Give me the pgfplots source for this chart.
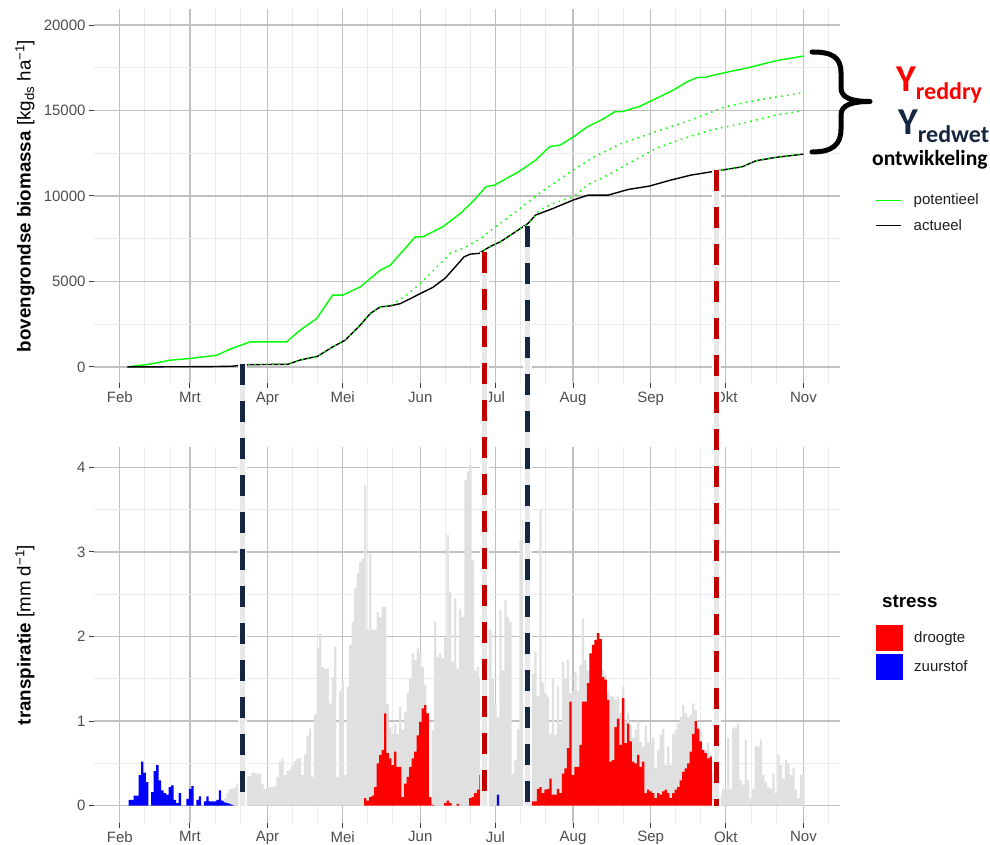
\documentclass[border=0pt]{standalone}
\usepackage{fontspec}
\setmainfont{Liberation Sans}
\newfontfamily\calib{Carlito}
\usepackage{pgfplots}
\pgfplotsset{compat=1.18}
\definecolor{gridmaj}{RGB}{192,192,192}
\definecolor{gridmin}{RGB}{235,235,235}
\definecolor{tickc}{RGB}{60,60,60}
\definecolor{ticktext}{RGB}{77,77,77}
\definecolor{legtext}{RGB}{30,30,30}
\definecolor{pgreen}{RGB}{0,255,0}
\definecolor{navy}{RGB}{22,38,64}
\definecolor{dred}{RGB}{192,0,0}
\definecolor{yred}{RGB}{255,0,0}
\definecolor{bargrey}{RGB}{224,224,224}
\definecolor{sred}{RGB}{255,0,0}
\definecolor{sblue}{RGB}{0,0,255}

\pgfplotsset{
  common/.style={
    scale only axis, width=746bp,
    xmin=21.7, xmax=319.6,
    xtick={32,60,91,121,152,182,213,244,274,305},
    xticklabels={Feb,Mrt,Apr,Mei,Jun,Jul,Aug,Sep,Okt,Nov},
    minor xtick={42,52,70,80,101,111,131,141,162,172,192,202,223,233,254,264,284,294,315},
    grid=both,
    major grid style={draw=gridmaj, line width=1.3bp},
    minor grid style={draw=gridmin, line width=0.7bp},
    axis line style={draw=none},
    tick align=outside, major tick length=5bp, minor tick length=0pt,
    tick style={draw=tickc, line width=1bp},
    xtick pos=left, ytick pos=left,
    ticklabel style={font=\fontsize{15bp}{18bp}\selectfont, text=ticktext},
    scaled y ticks=false,
    /pgf/number format/assume math mode=true,
    /pgf/number format/1000 sep={},
    label style={font=\fontsize{18.75bp}{22bp}\selectfont},
    legend cell align=left,
  }
}

\begin{document}
\begin{tikzpicture}[x=1bp,y=1bp]
\useasboundingbox (0,0) rectangle (990,845);

% ---------------- top panel: biomass ----------------
\begin{axis}[common,
  at={(94bp,461.7bp)}, anchor=south west, height=374.6bp,
  ymin=-960, ymax=20960,
  ytick={0,5000,10000,15000,20000},
  yticklabels={0,5000,10000,15000,20000},
  minor ytick={2500,7500,12500,17500},
  ylabel={\textbf{bovengrondse biomassa} [kg\textsubscript{ds} ha\textsuperscript{−1}]},
  ylabel style={at={(axis description cs:-0.0925,0.5)}, anchor=center},
  legend style={at={(axis description cs:1.047,0.4546)}, anchor=west,
    draw=none, fill=none, inner sep=0pt, row sep=13bp, column sep=12bp,
    font=\fontsize{15bp}{18bp}\selectfont, text=legtext, nodes={inner sep=0pt}},
  legend image code/.code={\draw[#1, line width=1.4bp, solid] (0bp,0bp) -- (25bp,0bp);},
]
\addplot[pgreen, line width=1.4bp] coordinates {
(35,0) (44,160) (52,390) (60,490) (70.6,680) (77,1090) (84,1460) (98.6,1460)
(104,2150) (110.6,2830) (117,4200) (121,4200) (128,4680) (136,5660) (140,5950)
(146.5,7030) (150,7610) (153,7610) (161,8200) (168,8980) (173.5,9760) (178.2,10540)
(181.7,10640) (186.5,11030) (191.3,11420) (198.1,12100) (203.6,12880) (207.8,12980)
(213.3,13470) (218.7,14050) (224.2,14440) (229.7,14930) (232.5,14930) (239.4,15230)
(246.2,15710) (253.1,16200) (258.6,16690) (262.7,16940) (265.4,16940) (273.7,17220)
(281.9,17470) (287.4,17670) (294.3,17920) (305,18190)};
\addlegendentry{potentieel}
\addplot[black, line width=1.4bp] coordinates {
(35,0) (50,5) (60,10) (70,20) (77,40) (80,90) (84,130) (90,140) (99,150)
(104,400) (111,620) (117,1170) (122,1560) (128,2440) (132,3120) (136,3510) (140,3570)
(144,3700) (148,3990) (152,4290) (157,4650) (162,5200) (166,5860) (169.5,6440)
(172,6600) (175.5,6640) (177.5,6830) (180,7050) (184,7320) (191,8000) (195,8390)
(198,8880) (205,9270) (213,9760) (219,10050) (227,10050) (235,10380) (243.5,10580)
(252,10930) (260,11220) (271,11480) (280.6,11710) (286,12060) (294,12260) (305,12450)};
\addlegendentry{actueel}
\addplot[pgreen, line width=1.5bp, dash pattern=on 1.5bp off 4.5bp, forget plot] coordinates {
(81,100) (84,130) (90,140) (99,150) (104,400) (111,620) (117,1170) (122,1560)
(128,2440) (132,3120) (136,3510) (140,3570) (146,4150) (152,4880) (158,5750)
(164,6640) (170,7000) (176,7500) (182,8200) (191,9170) (199.5,10150) (212,11420)
(221.5,12300) (232.5,13080) (246,13760) (260,14440) (274,15230) (287,15620) (305,16050)};
\addplot[pgreen, line width=1.5bp, dash pattern=on 1.5bp off 4.5bp, forget plot] coordinates {
(177.5,6830) (180,7050) (184,7320) (191,8000) (195,8390) (199.5,9170) (205,9560)
(213.3,9960) (218.7,10640) (227,11220) (235.2,11910) (246.2,12790) (257.2,13370)
(268.2,13860) (280.6,14250) (294.3,14740) (305,15000)};
\addplot[pgreen, line width=1.5bp, dash pattern=on 1.5bp off 4.5bp, forget plot] coordinates {
(270,11460) (280.6,11710) (286,12060) (294,12260) (305,12450)};
\coordinate (t1) at (axis cs:80.8,150);
\coordinate (t2) at (axis cs:177.8,6750);
\coordinate (t3) at (axis cs:194.9,8250);
\coordinate (t4) at (axis cs:270.1,11500);
\end{axis}

% ---------------- bottom panel: transpiration ----------------
\begin{axis}[common,
  at={(94bp,22.3bp)}, anchor=south west, height=375.4bp,
  ymin=-0.201, ymax=4.236,
  ytick={0,1,2,3,4},
  minor ytick={0.5,1.5,2.5,3.5},
  ylabel={\textbf{transpiratie} [mm d\textsuperscript{−1}]},
  ylabel style={at={(axis description cs:-0.0925,0.5)}, anchor=center},
  legend style={at={(axis description cs:1.0483,0.454)}, anchor=west,
    draw=none, fill=none, inner sep=0pt, row sep=3bp, column sep=11bp,
    font=\fontsize{15bp}{18bp}\selectfont, text=legtext, nodes={inner sep=0pt}},
  legend image code/.code={\fill[#1] (0bp,-13bp) rectangle (27bp,13bp);},
]
\addplot[ybar, bar width=0.9, bar shift=0pt, fill=bargrey, draw=none, forget plot] coordinates {
(73,0.05) (74,0.09) (75,0.15) (76,0.20) (77,0.20) (78,0.22) (79,0.26) (80,0.28)
(81,0.30) (82,0.32) (83,0.34) (84,0.35) (85,0.39) (86,0.39) (87,0.38) (88,0.38)
(89,0.26) (90,0.20) (91,0.22) (92,0.22) (93,0.22) (94,0.23) (95,0.34) (96,0.52)
(97,0.56) (98,0.36) (99,0.41) (100,0.43) (101,0.48) (102,0.53) (103,0.56) (104,0.56)
(105,0.36) (106,0.60) (107,0.82) (108,0.91) (109,0.34) (110,1.08) (111,1.86) (112,2.03)
(113,1.64) (114,1.62) (115,1.62) (116,1.21) (117,1.52) (118,1.88) (119,0.34) (120,1.35)
(121,1.46) (122,0.36) (123,1.40) (124,1.90) (125,2.17) (126,2.57) (127,2.75) (128,2.88)
(129,2.92) (130,3.79) (131,2.08) (132,2.98) (133,2.08) (134,2.08) (135,2.29) (136,2.23)
(137,2.35) (138,2.35) (139,1.20) (140,0.93) (141,0.85) (142,0.97) (143,0.85) (144,1.17)
(145,0.90) (146,1.11) (147,1.33) (148,1.50) (149,1.80) (150,1.72) (151,1.86) (152,1.80)
(153,1.64) (154,1.43) (155,1.10) (156,0.10) (157,0.89) (158,2.17) (159,1.76) (160,1.80)
(161,1.74) (162,1.98) (163,3.20) (164,2.53) (165,1.70) (166,2.45) (167,1.62) (168,2.33)
(169,2.23) (170,3.85) (171,3.95) (172,4.03) (173,2.90) (174,1.60) (175,1.64) (176,1.50)
(177,2.10) (178,1.96) (179,2.12) (180,2.08) (181,1.50) (182,1.21) (183,1.05) (184,2.31)
(185,1.60) (186,2.43) (187,2.23) (188,2.17) (189,0.38) (190,0.54) (191,0.90) (192,3.14)
(193,3.38) (194,2.00) (195,1.70) (196,1.40) (197,1.56) (198,1.82) (199,1.30) (200,3.50)
(201,1.45) (202,1.33) (203,1.29) (204,0.85) (205,1.50) (206,0.84) (207,1.41) (208,0.97)
(209,1.70) (210,1.50) (211,1.72) (212,1.33) (213,1.35) (214,1.58) (215,1.35) (216,1.66)
(217,2.21) (218,1.72) (219,1.60) (220,1.80) (221,1.90) (222,1.96) (223,2.04) (224,1.97)
(225,1.60) (226,1.55) (227,1.35) (228,1.30) (229,1.29) (230,1.25) (231,1.29) (232,1.10)
(233,1.41) (234,1.00) (235,1.10) (236,0.95) (237,0.80) (238,0.90) (239,1.00) (240,0.75)
(241,0.70) (242,0.95) (243,0.75) (244,0.74) (245,0.80) (246,0.44) (247,0.66) (248,0.84)
(249,0.91) (250,0.48) (251,0.70) (252,0.48) (253,0.85) (254,0.89) (255,0.97) (256,1.05)
(257,1.19) (258,1.09) (259,1.05) (260,1.07) (261,1.21) (262,1.13) (263,0.93) (264,0.89)
(265,0.66) (266,0.65) (267,0.74) (268,0.60) (269,0.50) (270,0.30) (271,0.05) (272,0.13)
(273,0.20) (274,0.20) (275,0.80) (276,0.20) (277,0.91) (278,0.93) (279,0.97) (280,0.30)
(281,0.25) (282,0.78) (283,0.30) (284,0.09) (285,0.20) (286,0.70) (287,0.70) (288,0.78)
(289,0.36) (290,0.28) (291,0.22) (292,0.20) (293,0.38) (294,0.15) (295,0.60) (296,0.48)
(297,0.32) (298,0.54) (299,0.50) (300,0.36) (301,0.44) (302,0.19) (303,0.09) (304,0.36)
(305,0.38)};
\addplot[ybar, bar width=0.92, bar shift=0pt, fill=sred, draw=none] coordinates {
(130,0.09) (131,0.06) (132,0.10) (133,0.12) (134,0.22) (135,0.50) (136,0.60) (137,0.66)
(138,1.09) (139,0.62) (140,0.56) (141,0.48) (142,0.64) (143,0.46) (144,0.46) (145,0.10)
(146,0.26) (147,0.34) (148,0.46) (149,0.56) (150,0.64) (151,0.83) (152,0.99) (153,1.15)
(154,1.19) (155,1.09) (156,0.10) (157,0.01) (162,0.03) (163,0.06) (164,0.03) (167,0.02)
(172,0.09) (173,0.10) (174,0.15) (175,0.19) (176,0.36) (177,0.38)
(196,0.04) (197,0.05) (198,0.05) (199,0.20) (200,0.22) (201,0.15) (202,0.19) (203,0.20)
(204,0.32) (205,0.13) (206,0.13) (207,0.20) (208,0.15) (209,0.38) (210,0.44) (211,0.68)
(212,1.23) (213,0.36) (214,0.46) (215,0.46) (216,0.72) (217,1.23) (218,1.23) (219,1.45)
(220,1.80) (221,1.90) (222,1.96) (223,2.04) (224,1.97) (225,1.52) (226,1.49) (227,1.25)
(228,0.52) (229,0.54) (230,0.93) (231,1.03) (232,0.72) (233,1.27) (234,0.74) (235,0.97)
(236,0.76) (237,0.52) (238,0.50) (239,0.60) (240,0.46) (241,0.52) (242,0.15) (243,0.19)
(244,0.17) (245,0.15) (246,0.09) (247,0.15) (248,0.13) (249,0.17) (250,0.19) (251,0.15)
(252,0.09) (253,0.15) (254,0.19) (255,0.22) (256,0.30) (257,0.40) (258,0.44) (259,0.50)
(260,0.64) (261,0.85) (262,1.00) (263,0.91) (264,0.76) (265,0.66) (266,0.62) (267,0.56)
(268,0.58) (269,0.40) (270,0.05)};
\addlegendentry{droogte}
\addplot[ybar, bar width=0.92, bar shift=0pt, fill=sblue, draw=none] coordinates {
(36,0.07) (37,0.07) (38,0.12) (39,0.12) (40,0.36) (41,0.52) (42,0.39) (43,0.28)
(45,0.16) (46,0.41) (47,0.48) (48,0.30) (49,0.18) (50,0.15) (51,0.13) (52,0.22)
(53,0.24) (54,0.07) (55,0.03) (56,0.15) (59,0.08) (60,0.20) (61,0.23) (63,0.07)
(64,0.11) (66,0.05) (67,0.11) (68,0.05) (69,0.05) (70,0.05) (71,0.07) (72,0.18)
(73,0.06) (74,0.04) (75,0.03) (76,0.02) (77,0.01) (178,0.50) (183,0.13)};
\addlegendentry{zuurstof}
\coordinate (b1) at (axis cs:80.8,0);
\coordinate (b2) at (axis cs:177.8,0);
\coordinate (b3) at (axis cs:194.9,0);
\coordinate (b4) at (axis cs:270.1,0);
\end{axis}

% ---------------- dashed connector lines ----------------
\foreach \b/\t/\c in {b1/t1/navy, b2/t2/dred, b3/t3/navy, b4/t4/dred}{
  \draw[white, opacity=0.9, line width=9bp] (\b) -- (\t);
  \draw[gray!18, line width=5bp] (\b) -- (\t);
  \draw[\c, line width=5bp, dash pattern=on 21bp off 16bp] (\t) -- (\b);
}

% ---------------- annotations ----------------
\draw[black, line width=5bp, line cap=round, line join=round]
  (812,793) .. controls (832,793) and (841,788) .. (841,772)
  -- (841,757) .. controls (841,747) and (852,743.5) .. (870,743.5)
  .. controls (852,743.5) and (841,740) .. (841,730)
  -- (841,716) .. controls (841,700) and (832,693) .. (812,693);
\node[anchor=base west, inner sep=0pt, text=yred, font=\calib\bfseries\fontsize{38bp}{38bp}\selectfont]
  at (896,753) {Y\raisebox{-8bp}{\fontsize{24bp}{24bp}\selectfont reddry}};
\node[anchor=base west, inner sep=0pt, text=navy, font=\calib\bfseries\fontsize{38bp}{38bp}\selectfont]
  at (898,710) {Y\raisebox{-8bp}{\fontsize{24bp}{24bp}\selectfont redwet}};
\node[anchor=base west, inner sep=0pt, font=\calib\bfseries\fontsize{21.6bp}{22bp}\selectfont]
  at (872,679) {ontwikkeling};
\node[anchor=base west, inner sep=0pt, font=\bfseries\fontsize{18.75bp}{22bp}\selectfont]
  at (882,237) {stress};
\end{tikzpicture}
\end{document}
